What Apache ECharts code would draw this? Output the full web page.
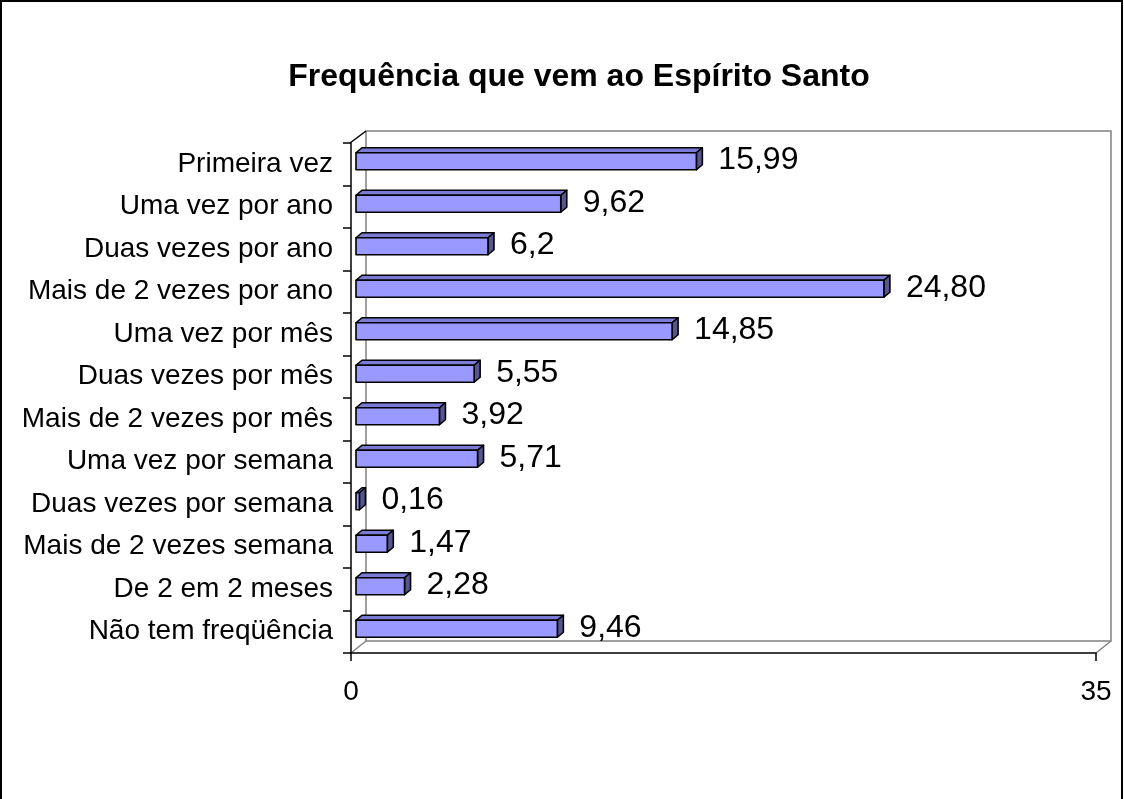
<!DOCTYPE html>
<html>
<head>
<meta charset="utf-8">
<script src="https://cdn.jsdelivr.net/npm/echarts@6/dist/echarts.min.js"></script>
<style>
  html, body { margin: 0; padding: 0; background: #fff; }
  #chart { width: 1124px; height: 799px; }
</style>
</head>
<body>
<div id="chart"></div>
<script>
var categories = ['Primeira vez', 'Uma vez por ano', 'Duas vezes por ano', 'Mais de 2 vezes por ano',
    'Uma vez por mês', 'Duas vezes por mês', 'Mais de 2 vezes por mês', 'Uma vez por semana',
    'Duas vezes por semana', 'Mais de 2 vezes semana', 'De 2 em 2 meses', 'Não tem freqüência'];
var values = [15.99, 9.62, 6.2, 24.80, 14.85, 5.55, 3.92, 5.71, 0.16, 1.47, 2.28, 9.46];
var valueLabels = ['15,99', '9,62', '6,2', '24,80', '14,85', '5,55', '3,92', '5,71', '0,16', '1,47', '2,28', '9,46'];
var axisMin = 0, axisMax = 35;

var font = 'Liberation Sans, Arial, sans-serif';
// front plane, back wall, bars (mid depth)
var front = { left: 351, top: 143, width: 745, height: 510 };
var wallDx = 15, wallDy = -12;
var barDx = 5, barDy = -3;

function gridAt(dx, dy, show) {
    return {
        left: front.left + dx, top: front.top + dy, width: front.width, height: front.height,
        show: show, borderColor: '#808080', borderWidth: 1.5, backgroundColor: 'transparent'
    };
}

function hiddenX(idx) {
    return { type: 'value', gridIndex: idx, min: axisMin, max: axisMax, show: false };
}
function hiddenY(idx) {
    return { type: 'category', gridIndex: idx, data: categories, inverse: true, show: false };
}

var barData = values.map(function(v, i) { return [v, i]; });

var option = {
    backgroundColor: '#fff',
    animation: false,
    title: {
        text: 'Frequência que vem ao Espírito Santo',
        left: 574, top: 56, textAlign: 'center',
        textStyle: { fontFamily: font, fontSize: 32, fontWeight: 'bold', color: '#000' }
    },
    grid: [gridAt(0, 0, false), gridAt(wallDx, wallDy, true), gridAt(barDx, barDy, false)],
    xAxis: [{
        type: 'value', gridIndex: 0, min: axisMin, max: axisMax, interval: 35,
        axisLine: { show: true, lineStyle: { color: '#000', width: 1.5 } },
        axisTick: { show: true, length: 8, lineStyle: { color: '#000', width: 1.5 } },
        splitLine: { show: false },
        axisLabel: { margin: 25, fontFamily: font, fontSize: 28, color: '#000' }
    }, hiddenX(1), hiddenX(2)],
    yAxis: [{
        type: 'category', gridIndex: 0, data: categories, inverse: true,
        axisLine: { show: true, lineStyle: { color: '#000', width: 1.5 } },
        axisTick: { show: true, length: 8, lineStyle: { color: '#000', width: 1.5 } },
        axisLabel: { margin: 18, fontFamily: font, fontSize: 28, color: '#000' }
    }, hiddenY(1), hiddenY(2)],
    graphic: [
        { type: 'rect', shape: { x: 1, y: 1, width: 1121, height: 830 },
          style: { fill: 'none', stroke: '#000', lineWidth: 2 }, silent: true },
        { type: 'line', shape: { x1: front.left - 1, y1: front.top, x2: front.left + wallDx, y2: front.top + wallDy },
          style: { stroke: '#000', lineWidth: 1.5 }, silent: true },
        { type: 'line', shape: { x1: front.left, y1: front.top + front.height, x2: front.left + wallDx, y2: front.top + front.height + wallDy },
          style: { stroke: '#808080', lineWidth: 1.5 }, silent: true },
        { type: 'line', shape: { x1: front.left + front.width, y1: front.top + front.height, x2: front.left + front.width + wallDx, y2: front.top + front.height + wallDy },
          style: { stroke: '#808080', lineWidth: 1.5 }, silent: true }
    ],
    series: [{
        type: 'custom',
        xAxisIndex: 2, yAxisIndex: 2,
        encode: { x: 0, y: 1 },
        data: barData,
        renderItem: function(params, api) {
            var idx = api.value(1);
            var end = api.coord([api.value(0), idx]);
            var start = api.coord([0, idx]);
            var h = api.size([0, 1])[1] * 0.4;
            var top = end[1] - h / 2, bot = end[1] + h / 2;
            var dx = 6, dy = -5;
            var x0 = start[0], x1 = end[0];
            var line = { stroke: '#000', lineWidth: 1.6, lineJoin: 'round' };
            return {
                type: 'group',
                children: [
                    { type: 'polygon', shape: { points: [[x0, top], [x1, top], [x1 + dx, top + dy], [x0 + dx, top + dy]] },
                      style: Object.assign({ fill: '#7b7bd6' }, line) },
                    { type: 'polygon', shape: { points: [[x1, top], [x1 + dx, top + dy], [x1 + dx, bot + dy], [x1, bot]] },
                      style: Object.assign({ fill: '#55558f' }, line) },
                    { type: 'rect', shape: { x: x0, y: top, width: x1 - x0, height: h },
                      style: Object.assign({ fill: '#9999ff' }, line) },
                    { type: 'text', x: x1 + dx + 16, y: end[1] - 1,
                      style: { text: valueLabels[idx], fill: '#000', font: '32px ' + font,
                               verticalAlign: 'middle', align: 'left' } }
                ]
            };
        }
    }]
};

var myChart = echarts.init(document.getElementById('chart'));
myChart.setOption(option);
</script>
</body>
</html>
